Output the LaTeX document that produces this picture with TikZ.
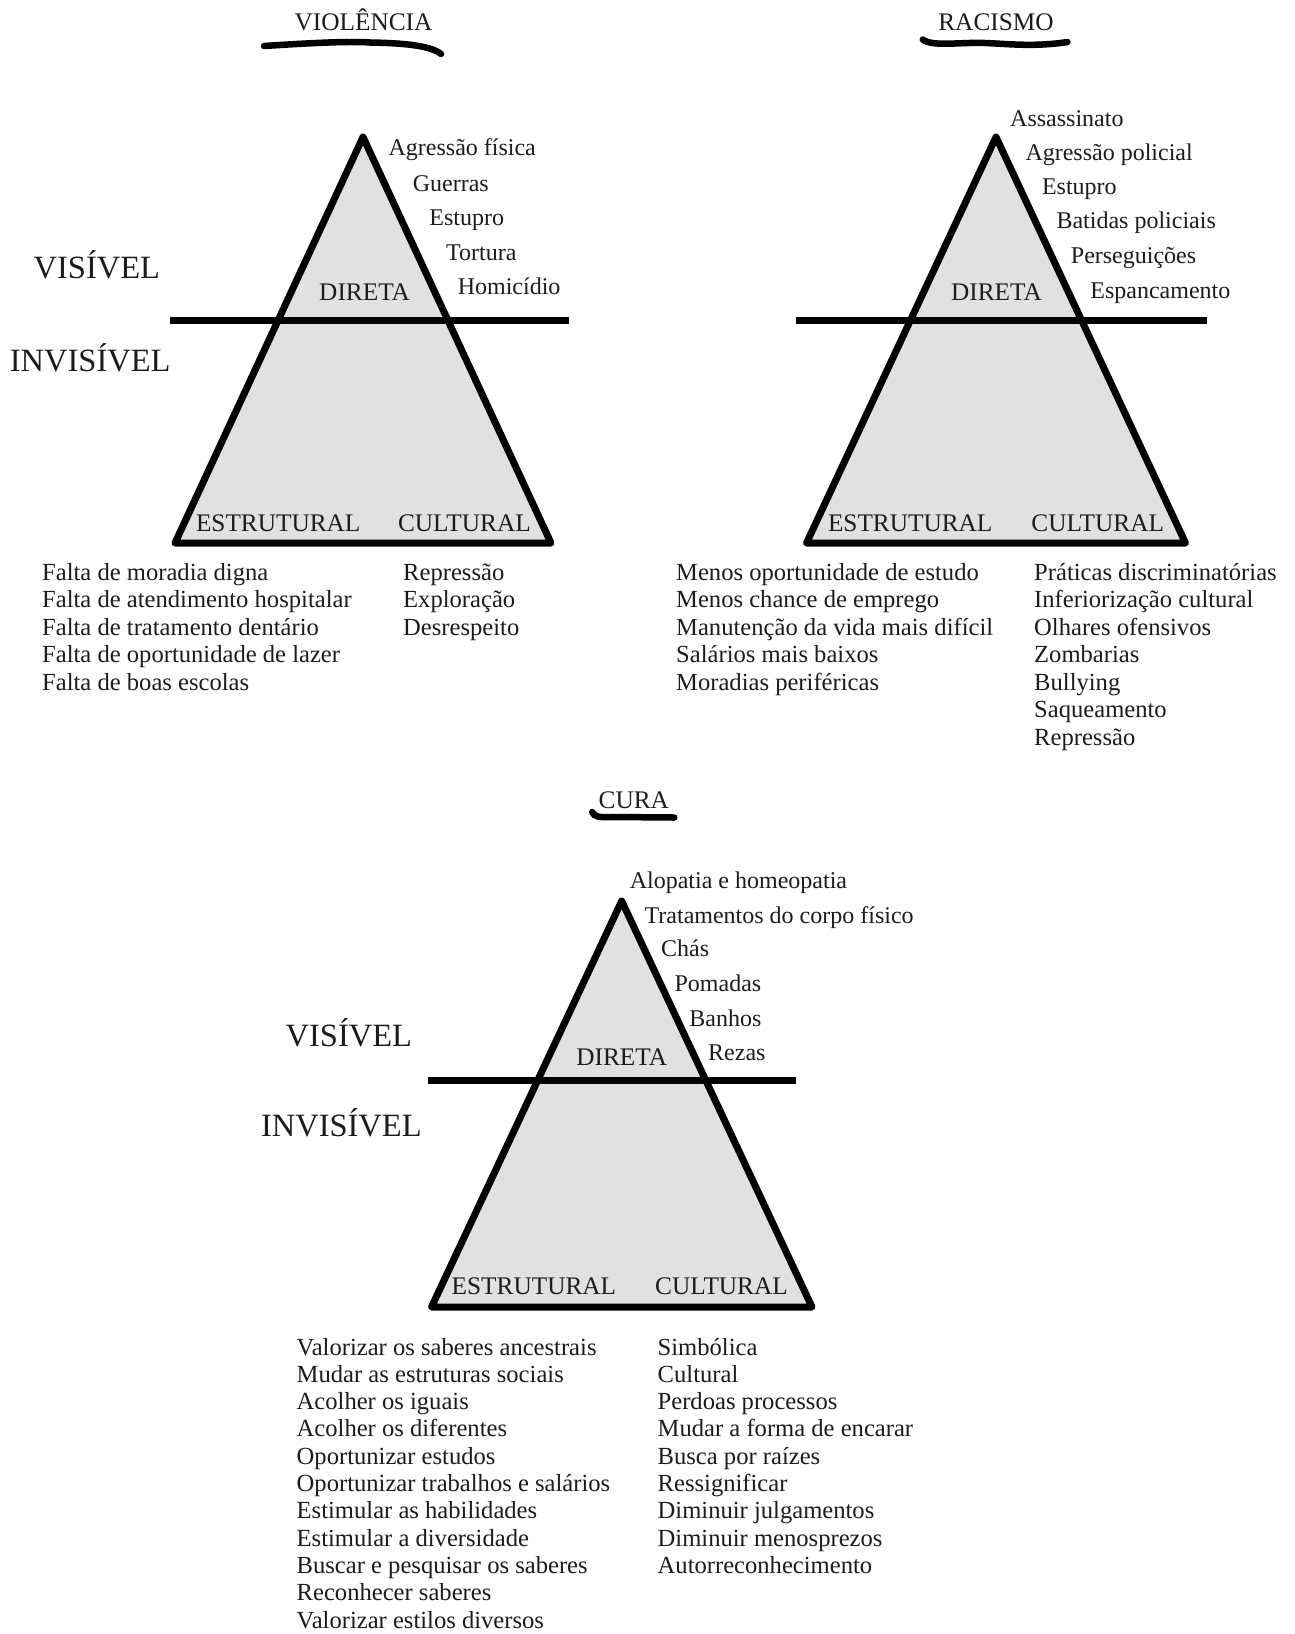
\documentclass[tikz,border=0pt]{standalone}
\usepackage{fontspec}
\setmainfont{Liberation Serif}
\definecolor{ink}{HTML}{1C1C1C}
\definecolor{trigrey}{HTML}{E1E1E1}
\begin{document}
\begin{tikzpicture}[x=1pt,y=-1pt,
 tri/.style={draw=black, fill=trigrey, line width=7pt, line join=round},
 hbar/.style={draw=black, line width=7pt},
 brush/.style={draw=black, line width=6.5pt, line cap=round},
 item/.style={font=\fontsize{24.6}{28}\selectfont, text=ink, inner sep=0pt, anchor=base west},
 lbl/.style={font=\fontsize{24}{28}\selectfont, text=ink, inner sep=0pt, anchor=base west},
 capl/.style={font=\fontsize{25.3}{30}\selectfont, text=ink, inner sep=0pt, anchor=base west},
 capc/.style={capl, anchor=base},
 side/.style={font=\fontsize{32.5}{38}\selectfont, text=ink, inner sep=0pt, anchor=base west}]
\useasboundingbox[fill=white] (0,0) rectangle (1295,1634);

% ================= VIOLENCIA =================
\node[capc] (v-title) at (363.5,30.4) {VIOLÊNCIA};
\coordinate (v-u1) at (264,46);
\coordinate (v-u2) at (441,54);
\draw[brush] (v-u1) .. controls (310,43) and (350,41) .. (370,42.5) .. controls (400,43) and (430,45) .. (v-u2);

\coordinate (v-top) at (363,137);
\coordinate (v-bl) at (175,543);
\coordinate (v-br) at (551,543);
\draw[tri] (v-top) -- (v-bl) -- (v-br) -- cycle;
\coordinate (v-hl) at (170,320);
\coordinate (v-hr) at (568.8,320);
\draw[hbar] (v-hl) -- (v-hr);

\node[side] (v-vis) at (33.5,278.6) {VISÍVEL};
\node[side] (v-invis) at (9.7,371.4) {INVISÍVEL};
\node[capc] (v-direta) at (364.6,300) {DIRETA};
\node[lbl] (v-d1) at (388.4,155.4) {Agressão física};
\node[lbl] (v-d2) at (412.6,191) {Guerras};
\node[lbl] (v-d3) at (429.2,225.7) {Estupro};
\node[lbl] (v-d4) at (445.9,260) {Tortura};
\node[lbl] (v-d5) at (457.6,294.6) {Homicídio};
\node[capl] (v-est) at (195.8,531) {ESTRUTURAL};
\node[capl] (v-cul) at (397.9,531) {CULTURAL};
\foreach \t [count=\i from 0] in {Falta de moradia digna, Falta de atendimento hospitalar, Falta de tratamento dentário, Falta de oportunidade de lazer, Falta de boas escolas}
  \node[item] (v-s\i) at (42,{580+27.5*\i}) {\t};
\foreach \t [count=\i from 0] in {Repressão, Exploração, Desrespeito}
  \node[item] (v-c\i) at (403,{580+27.5*\i}) {\t};

% ================= RACISMO =================
\node[capc] (r-title) at (996,30.4) {RACISMO};
\coordinate (r-u1) at (922.8,39.5);
\coordinate (r-u2) at (1067.5,42);
\draw[brush] (r-u1) .. controls (932,47) and (960,42) .. (985,43) .. controls (1010,44) and (1035,47) .. (r-u2);

\coordinate (r-top) at (996,137);
\coordinate (r-bl) at (806.5,543);
\coordinate (r-br) at (1185.5,543);
\draw[tri] (r-top) -- (r-bl) -- (r-br) -- cycle;
\coordinate (r-hl) at (795.8,320);
\coordinate (r-hr) at (1207.3,320);
\draw[hbar] (r-hl) -- (r-hr);

\node[capc] (r-direta) at (996.5,300) {DIRETA};
\node[lbl] (r-d1) at (1010,126.8) {Assassinato};
\node[lbl] (r-d2) at (1025.3,160.7) {Agressão policial};
\node[lbl] (r-d3) at (1041.8,194.6) {Estupro};
\node[lbl] (r-d4) at (1056.3,228.6) {Batidas policiais};
\node[lbl] (r-d5) at (1070.7,263.6) {Perseguições};
\node[lbl] (r-d6) at (1090.2,298.2) {Espancamento};
\node[capl] (r-est) at (827.8,531) {ESTRUTURAL};
\node[capl] (r-cul) at (1031.2,531) {CULTURAL};
\foreach \t [count=\i from 0] in {Menos oportunidade de estudo, Menos chance de emprego, Manutenção da vida mais difícil, Salários mais baixos, Moradias periféricas}
  \node[item] (r-s\i) at (676,{580+27.5*\i}) {\t};
\foreach \t [count=\i from 0] in {Práticas discriminatórias, Inferiorização cultural, Olhares ofensivos, Zombarias, Bullying, Saqueamento, Repressão}
  \node[item] (r-c\i) at (1034,{580+27.5*\i}) {\t};

% ================= CURA =================
\node[capc] (c-title) at (633.8,808.3) {CURA};
\coordinate (c-u1) at (592.2,812);
\coordinate (c-u2) at (674.3,817.5);
\draw[brush] (c-u1) .. controls (594,817) and (600,817.5) .. (612,817) -- (c-u2);

\coordinate (c-top) at (621.7,901);
\coordinate (c-bl) at (431.5,1307);
\coordinate (c-br) at (812,1307);
\draw[tri] (c-top) -- (c-bl) -- (c-br) -- cycle;
\coordinate (c-hl) at (428.4,1080.5);
\coordinate (c-hr) at (796.3,1080.5);
\draw[hbar] (c-hl) -- (c-hr);

\node[side] (c-vis) at (285.5,1046.7) {VISÍVEL};
\node[side] (c-invis) at (260.8,1136) {INVISÍVEL};
\node[capc] (c-direta) at (621.7,1065) {DIRETA};
\node[lbl] (c-d1) at (629.6,888.3) {Alopatia e homeopatia};
\node[lbl] (c-d2) at (644.4,923.3) {Tratamentos do corpo físico};
\node[lbl] (c-d3) at (661,956.7) {Chás};
\node[lbl] (c-d4) at (674.4,991.7) {Pomadas};
\node[lbl] (c-d5) at (689.2,1026) {Banhos};
\node[lbl] (c-d6) at (708,1060) {Rezas};
\node[capl] (c-est) at (451.5,1294) {ESTRUTURAL};
\node[capl] (c-cul) at (655,1294) {CULTURAL};
\foreach \t [count=\i from 0] in {Valorizar os saberes ancestrais, Mudar as estruturas sociais, Acolher os iguais, Acolher os diferentes, Oportunizar estudos, Oportunizar trabalhos e salários, Estimular as habilidades, Estimular a diversidade, Buscar e pesquisar os saberes, Reconhecer saberes, Valorizar estilos diversos}
  \node[item] (c-s\i) at (296.5,{1355+27.3*\i}) {\t};
\foreach \t [count=\i from 0] in {Simbólica, Cultural, Perdoas processos, Mudar a forma de encarar, Busca por raízes, Ressignificar, Diminuir julgamentos, Diminuir menosprezos, Autorreconhecimento}
  \node[item] (c-c\i) at (657.5,{1355+27.3*\i}) {\t};
\end{tikzpicture}
\end{document}
